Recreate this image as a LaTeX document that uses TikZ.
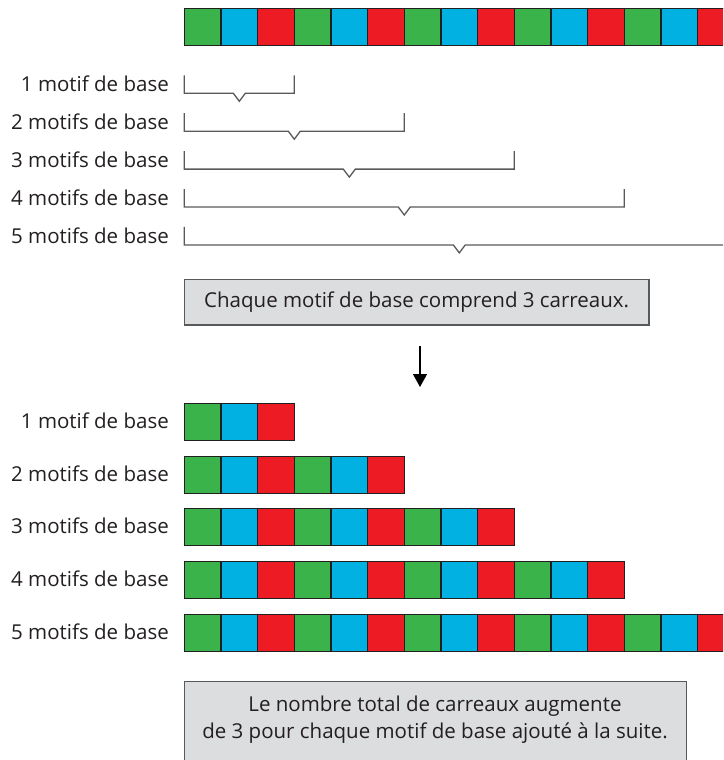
\documentclass[tikz,border=0pt]{standalone}
\usepackage{fontspec}
\setmainfont{Open Sans}
\usepackage{xcolor}
\definecolor{tgreen}{HTML}{3AB34A}
\definecolor{tblue}{HTML}{00B1E1}
\definecolor{tred}{HTML}{ED1C24}
\definecolor{ink}{HTML}{231F20}
\definecolor{boxfill}{HTML}{DCDDDE}
\definecolor{boxline}{HTML}{58595B}
\colorlet{tc0}{tgreen}
\colorlet{tc1}{tblue}
\colorlet{tc2}{tred}
\usepackage{tikz}
\usetikzlibrary{arrows.meta, positioning, calc}

\begin{document}
\begin{tikzpicture}[x=1pt, y=-1pt, font=\fontsize{20.5}{26.6}\selectfont, text=ink,
  tile/.style={draw=ink, line width=1.2pt, inner sep=0pt, minimum width=36.67pt, minimum height=37pt},
  lbl/.style={anchor=base east, inner sep=0pt},
  notebox/.style={draw=boxline, fill=boxfill, line width=1.3pt, inner sep=0pt},
  brace/.style={draw=boxline, line width=1.3pt}]
  \useasboundingbox (0,0) rectangle (723,760);
  \clip (0,0) rectangle (723,760);

  % la suite complete
  \foreach \i in {0,...,14}{
    \pgfmathtruncatemacro{\c}{mod(\i,3)}
    \node[tile, fill=tc\c] (top\i) at ({202.65+36.67*\i}, 26.7) {};
  }

  % accolades
  \foreach \k in {1,...,5}{
    \pgfmathsetmacro{\y}{93.3+37.9*(\k-1)}
    \pgfmathsetmacro{\m}{184.3+55*\k}
    \pgfmathsetmacro{\r}{184.3+110*\k}
    \node[lbl] (blbl\k) at (169, \y-1.5) {\k\ motif\ifnum\k>1 s\fi\ de base};
    \draw[brace] (184.3,\y-18) -- (184.3,\y) -- (\m-6,\y) -- (\m,\y+8)
      -- (\m+6,\y) -- (\r,\y) -- (\r,\y-18);
  }

  \node[notebox, minimum width=464.7pt, minimum height=45.7pt] (rule) at (416.65, 302.15)
    {Chaque motif de base comprend 3 carreaux.};

  \coordinate (arrtop) at (420, 346);
  \coordinate (arrtip) at (420, 387);
  \draw[-{Triangle[length=13pt, width=14pt]}, line width=1.4pt, black] (arrtop) -- (arrtip);

  % rangees
  \foreach \k in {1,...,5}{
    \pgfmathsetmacro{\y}{422+52.65*(\k-1)}
    \pgfmathtruncatemacro{\n}{3*\k-1}
    \node[lbl] (rlbl\k) at (169, \y+6.5) {\k\ motif\ifnum\k>1 s\fi\ de base};
    \foreach \i in {0,...,\n}{
      \pgfmathtruncatemacro{\c}{mod(\i,3)}
      \node[tile, fill=tc\c] (row\k-\i) at ({202.65+36.67*\i}, \y) {};
    }
  }

  \node[notebox, anchor=north west, minimum width=502pt, minimum height=120pt] (sumbox) at (184, 681) {};
  \node[anchor=north, align=center, inner sep=0pt] (sumtxt) at (435, 696)
    {Le nombre total de carreaux augmente\\de 3 pour chaque motif de base ajouté à la suite.};
\end{tikzpicture}
\end{document}
